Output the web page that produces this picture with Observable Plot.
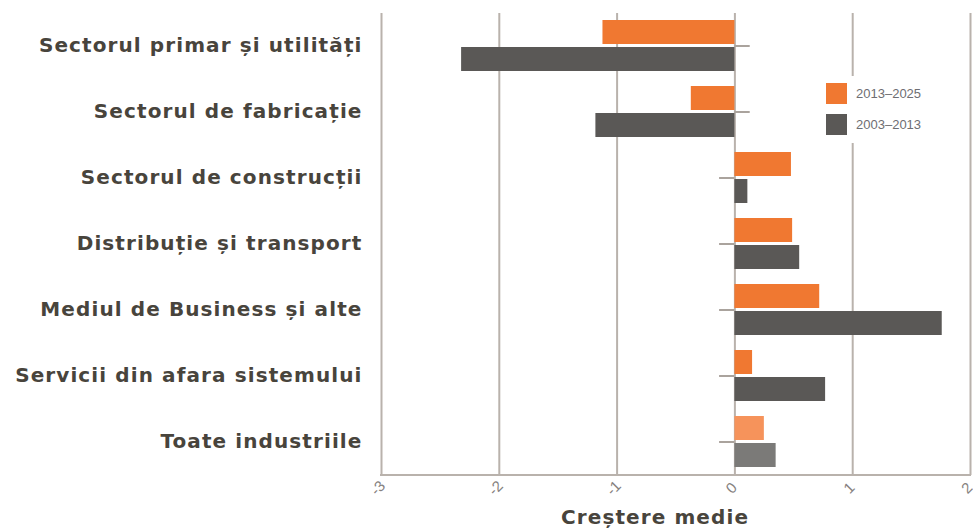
<!DOCTYPE html>
<html>
<head>
<meta charset="utf-8">
<script src="https://cdn.jsdelivr.net/npm/d3@7"></script>
<script src="https://cdn.jsdelivr.net/npm/@observablehq/plot@0.6"></script>
<style>
  body { margin: 0; background: #fff; }
  #wrap { position: relative; width: 973px; height: 529px; overflow: hidden; }
  #legend { position: absolute; left: 816px; top: 76px; width: 150px; height: 67px; background: #fff;
            font-family: "Liberation Sans", Arial, sans-serif; font-size: 13px; color: #6e6e72; }
  .li { position: absolute; left: 10px; display: flex; align-items: center; }
  .sw { width: 21px; height: 21px; margin-right: 9px; }
  #xtitle { position: absolute; left: 561px; top: 505px; font-family: "DejaVu Sans", Verdana, sans-serif;
            font-weight: bold; font-size: 20px; letter-spacing: 1.1px; color: #48443c; white-space: nowrap; }
</style>
</head>
<body>
<div id="wrap">
  <div id="chart"></div>
  <div id="legend"></div>
  <div id="xtitle">Creștere medie</div>
</div>
<script>
const categories = [
  "Sectorul primar și utilități",
  "Sectorul de fabricație",
  "Sectorul de construcții",
  "Distribuție și transport",
  "Mediul de Business și alte",
  "Servicii din afara sistemului",
  "Toate industriile"
];
const series = ["2013–2025", "2003–2013"];
const values2013_2025 = [-1.12, -0.37, 0.48, 0.49, 0.72, 0.15, 0.25];
const values2003_2013 = [-2.32, -1.18, 0.11, 0.55, 1.76, 0.77, 0.35];
const xTicks = [-3, -2, -1, 0, 1, 2];
const xTickLabels = ["-3", "-2", "-1", "0", "1", "2"];

const colOrange = "#f07831", colOrangeLight = "#f6935b";
const colGray = "#5a5856", colGrayLight = "#7b7a78";

const rows = categories.map((c, i) => ({
  category: c, a: values2013_2025[i], b: values2003_2013[i], last: i === categories.length - 1
}));

const chart = Plot.plot({
  width: 973,
  height: 529,
  marginLeft: 381,
  marginRight: 3,
  marginTop: 13,
  marginBottom: 54,
  x: { domain: [-3, 2], axis: null },
  y: { domain: categories, paddingInner: 0.225, paddingOuter: 0.1, axis: null },
  marks: [
    Plot.ruleX(xTicks, { stroke: "#b9b2ac", strokeWidth: 2 }),
    Plot.barX(rows, { y: "category", x: "a", insetBottom: 27, fill: d => d.last ? colOrangeLight : colOrange }),
    Plot.barX(rows, { y: "category", x: "b", insetTop: 27, fill: d => d.last ? colGrayLight : colGray }),
    Plot.ruleY(rows, { y: "category", x1: 0, x2: d => (d.a < 0 ? 1 : -1) * 0.13, stroke: "#aaa39d", strokeWidth: 2 }),
    Plot.axisY({ label: null, tickSize: 0, tickPadding: 19, fontSize: 20, fontWeight: "bold",
                 fontFamily: "DejaVu Sans, Verdana, sans-serif", fill: "#48443c" }),
    Plot.text(xTicks, { x: d => d, text: (d, i) => xTickLabels[i], frameAnchor: "bottom", dy: 16,
                        rotate: -45, textAnchor: "middle", fontSize: 15,
                        fontFamily: "Liberation Sans, Arial, sans-serif", fill: "#86827f" })
  ]
});
document.getElementById("chart").appendChild(chart);

const svg = d3.select(chart);
// letter spacing for category labels, like the reference's wide bold face
svg.selectAll("g[aria-label='y-axis tick label'] text, g[aria-label='y-axis tick label']")
  .style("letter-spacing", "1.1px");

// bottom axis line
svg.append("line")
  .attr("x1", 380).attr("x2", 971)
  .attr("y1", 529 - 54).attr("y2", 529 - 54)
  .attr("stroke", "#b9b2ac").attr("stroke-width", 2);

// legend
const legend = document.getElementById("legend");
[[series[0], colOrange, 7], [series[1], colGray, 38]].forEach(([label, color, top]) => {
  const d = document.createElement("div");
  d.className = "li";
  d.style.top = top + "px";
  d.innerHTML = `<div class="sw" style="background:${color}"></div><span>${label}</span>`;
  legend.appendChild(d);
});
</script>
</body>
</html>
